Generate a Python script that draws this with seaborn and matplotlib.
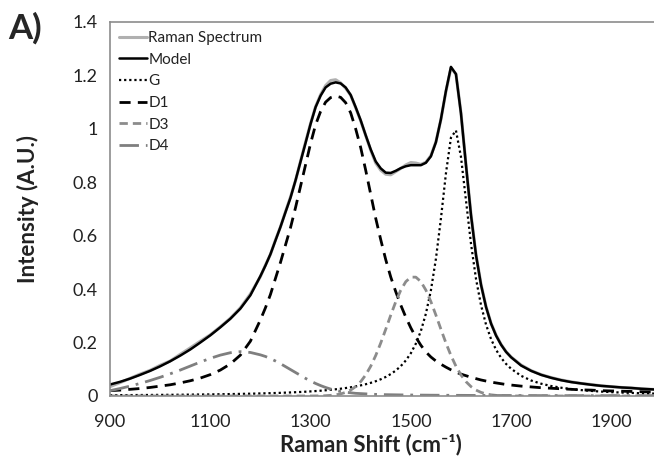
import matplotlib
matplotlib.use("Agg")
import matplotlib.pyplot as plt
import seaborn as sns

# Raman shift grid (cm-1)
shift = ([900, 920, 940, 960, 980, 1000, 1020, 1040, 1060, 1080, 1100, 1120, 1140, 1160, 1180, 1200]
         + list(range(1210, 1701, 10))
         + [1720, 1740, 1760, 1780, 1800, 1820, 1840, 1860, 1880, 1900, 1920, 1940, 1960, 1980, 2000])

raman = [0.035, 0.05, 0.066, 0.082, 0.096, 0.115, 0.131, 0.156, 0.18, 0.205, 0.229, 0.259, 0.291, 0.33, 0.382, 0.447,
         0.49, 0.53, 0.584, 0.633, 0.69, 0.745, 0.806, 0.879, 0.95, 1.02,
         1.083, 1.128, 1.162, 1.181, 1.184, 1.172, 1.152, 1.126, 1.079, 1.03,
         0.975, 0.92, 0.872, 0.845, 0.83, 0.828, 0.84, 0.852, 0.865, 0.874,
         0.872, 0.867, 0.875, 0.9, 0.951, 1.035, 1.14, 1.228, 1.205, 1.06,
         0.866, 0.68, 0.53, 0.418, 0.335, 0.272, 0.228, 0.193, 0.166, 0.146,
         0.116, 0.095, 0.08, 0.069, 0.06, 0.053, 0.047, 0.043, 0.038, 0.035, 0.032, 0.03, 0.027, 0.025, 0.023]

model = [0.043, 0.053, 0.065, 0.079, 0.094, 0.111, 0.13, 0.151, 0.174, 0.2, 0.227, 0.257, 0.289, 0.327, 0.377, 0.449,
         0.488, 0.531, 0.582, 0.633, 0.688, 0.742, 0.807, 0.877, 0.947, 1.018,
         1.081, 1.124, 1.155, 1.169, 1.174, 1.17, 1.155, 1.127, 1.081, 1.032,
         0.976, 0.923, 0.878, 0.852, 0.836, 0.835, 0.843, 0.853, 0.86, 0.864,
         0.864, 0.864, 0.873, 0.897, 0.95, 1.036, 1.142, 1.232, 1.205, 1.058,
         0.864, 0.677, 0.527, 0.416, 0.333, 0.271, 0.226, 0.192, 0.165, 0.145,
         0.114, 0.094, 0.079, 0.068, 0.059, 0.052, 0.047, 0.042, 0.038, 0.035, 0.032, 0.03, 0.027, 0.025, 0.023]

g_band = [0.003, 0.0032, 0.0034, 0.0037, 0.0039, 0.0042, 0.0045, 0.0048, 0.0052, 0.0056, 0.006, 0.0066, 0.0072, 0.0079, 0.0086, 0.0096,
          0.0101, 0.0106, 0.0112, 0.0118, 0.0126, 0.0133, 0.0142, 0.0151, 0.0161, 0.0172,
          0.0185, 0.0198, 0.0214, 0.0231, 0.0251, 0.0273, 0.0298, 0.0326, 0.0359, 0.0397,
          0.044, 0.0492, 0.0553, 0.0626, 0.0714, 0.0822, 0.0954, 0.112, 0.133, 0.16,
          0.196, 0.243, 0.308, 0.395, 0.513, 0.664, 0.833, 0.967, 0.994, 0.895,
          0.732, 0.57, 0.438, 0.34, 0.267, 0.213, 0.173, 0.143, 0.12, 0.102,
          0.0755, 0.058, 0.046, 0.0373, 0.0309, 0.0259, 0.0221, 0.019, 0.0165, 0.0145, 0.0129, 0.0115, 0.0103, 0.0093, 0.0084]

d1_band = [0.02, 0.022, 0.025, 0.028, 0.032, 0.037, 0.042, 0.049, 0.057, 0.067, 0.08, 0.097, 0.12, 0.153, 0.205, 0.285,
           0.33, 0.38, 0.44, 0.5, 0.565, 0.63, 0.705, 0.785, 0.865, 0.945,
           1.015, 1.065, 1.1, 1.117, 1.123, 1.118, 1.098, 1.06, 1.0, 0.93,
           0.845, 0.755, 0.665, 0.585, 0.51, 0.445, 0.39, 0.34, 0.295, 0.255,
           0.22, 0.19, 0.165, 0.146, 0.131, 0.119, 0.108, 0.098, 0.089, 0.082,
           0.076, 0.07, 0.065, 0.06, 0.056, 0.052, 0.049, 0.046, 0.043, 0.041,
           0.037, 0.034, 0.031, 0.029, 0.027, 0.025, 0.023, 0.022, 0.02, 0.019, 0.018, 0.017, 0.016, 0.015, 0.014]

d3_band = [0.0] * 16 + [
           0.0, 0.0, 0.0, 0.0, 0.0, 0.0, 0.0, 0.0, 0.0, 0.0001,
           0.0003, 0.0006, 0.0012, 0.0024, 0.0044, 0.0079, 0.0135, 0.0222, 0.0352, 0.0537,
           0.0789, 0.1115, 0.1517, 0.1985, 0.2499, 0.3029, 0.3532, 0.3964, 0.4281, 0.4449,
           0.4449, 0.4281, 0.3964, 0.3532, 0.3029, 0.2499, 0.1985, 0.1517, 0.1115, 0.0789,
           0.0537, 0.0352, 0.0222, 0.0135, 0.0079, 0.0044, 0.0024, 0.0012, 0.0006, 0.0003] + [0.0] * 15

d4_band = [0.02, 0.028, 0.037, 0.047, 0.058, 0.07, 0.083, 0.097, 0.112, 0.127, 0.141, 0.153, 0.162, 0.166, 0.163, 0.154,
           0.148, 0.14, 0.131, 0.121, 0.11, 0.099, 0.088, 0.077, 0.066, 0.056,
           0.047, 0.039, 0.032, 0.026, 0.021, 0.017, 0.014, 0.012, 0.01, 0.009,
           0.008, 0.007, 0.006, 0.0055, 0.005, 0.0047, 0.0044, 0.0041, 0.0039, 0.0037,
           0.0035, 0.0033, 0.0032, 0.003, 0.0029, 0.0028, 0.0027, 0.0026, 0.0025, 0.0024,
           0.0023, 0.0022, 0.0021, 0.0021, 0.002, 0.002, 0.0019, 0.0019, 0.0018, 0.0018,
           0.0017, 0.0016, 0.0015, 0.0015, 0.0014, 0.0014, 0.0013, 0.0013, 0.0012, 0.0012, 0.0011, 0.0011, 0.001, 0.001, 0.001]

x_ticks = [900, 1100, 1300, 1500, 1700, 1900]
y_ticks = [0, 0.2, 0.4, 0.6, 0.8, 1.0, 1.2, 1.4]
y_labels = ["0", "0.2", "0.4", "0.6", "0.8", "1", "1.2", "1.4"]

sns.set_theme(style="white")
plt.rcParams["font.family"] = ["Lato", "DejaVu Sans"]

fig = plt.figure(figsize=(6.54, 4.59), dpi=100)
ax = fig.add_axes([110 / 654, 63 / 459, 544 / 654, 374 / 459])

series = [
    ("Raman Spectrum", raman, "#b0b0b0", 2.2, "-"),
    ("Model", model, "black", 1.8, "-"),
    ("G", g_band, "black", 1.6, (0, (1, 1.3))),
    ("D1", d1_band, "black", 2.0, (0, (4, 2.6))),
    ("D3", d3_band, "#8c8c8c", 2.0, (0, (3, 1.8))),
    ("D4", d4_band, "#7f7f7f", 2.0, (0, (7, 2.5, 1, 2.5))),
]
for name, vals, col, lw, ls in series:
    sns.lineplot(x=shift, y=vals, ax=ax, color=col, linewidth=lw, label=name)
    ax.lines[-1].set_linestyle(ls)

ax.set_xlim(900, 1985)
ax.set_ylim(0, 1.4)
ax.set_xticks(x_ticks)
ax.set_xticklabels([str(t) for t in x_ticks])
ax.set_yticks(y_ticks)
ax.set_yticklabels(y_labels)
ax.tick_params(axis="both", labelsize=13, colors="#7f7f7f", length=5, width=1,
               direction="out", labelcolor="#222222", pad=4)
ax.tick_params(axis="x", pad=8)

for side in ["left", "bottom", "top"]:
    ax.spines[side].set_color("#8c8c8c")
    ax.spines[side].set_linewidth(1.2)
ax.spines["right"].set_visible(False)

ax.set_xlabel("Raman Shift (cm⁻¹)", fontsize=16, fontweight="bold", color="#222222")
ax.set_ylabel("Intensity (A.U.)", fontsize=16, fontweight="bold", color="#222222")
ax.xaxis.set_label_coords(0.48, -0.1)
ax.yaxis.set_label_coords(-0.13, 0.5)

leg = ax.legend(loc="upper left", frameon=False, fontsize=11, handlelength=1.8,
                handletextpad=0.1, labelspacing=0.5, borderaxespad=0.2,
                bbox_to_anchor=(0.0, 1.0))
for t in leg.get_texts():
    t.set_color("#222222")

fig.text(0.012, 0.975, "A)", fontsize=25, fontweight="bold", va="top", ha="left")

fig.savefig("out.png", dpi=100)
